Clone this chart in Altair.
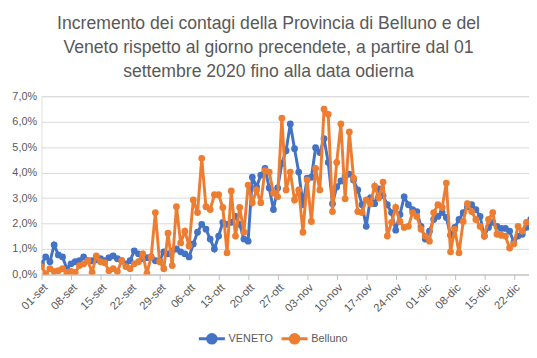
import altair as alt
import pandas as pd

# Daily increment (%) compared to the previous day, from 01-set-2020
veneto = [0.42, 0.69, 0.50, 1.16, 0.77, 0.69, 0.23, 0.42, 0.50, 0.54,
          0.69, 0.54, 0.54, 0.58, 0.62, 0.54, 0.66, 0.73, 0.62, 0.54,
          0.42, 0.54, 0.93, 0.81, 0.62, 0.66, 0.69, 0.54, 0.54, 0.89,
          0.81, 0.93, 1.00, 0.89, 0.81, 0.69, 1.20, 1.66, 1.97, 1.78,
          1.39, 1.00, 1.51, 2.05, 1.97, 2.05, 2.28, 1.97, 1.39, 1.31,
          3.82, 3.44, 3.90, 4.17, 3.40, 2.55, 3.40, 4.36, 4.86, 5.91,
          4.94, 4.02, 2.74, 3.78, 3.82, 4.98, 4.79, 5.33, 4.40, 2.78,
          3.44, 3.67, 3.86, 3.94, 3.71, 3.32, 2.74, 1.89, 3.01, 2.78,
          3.36, 3.09, 2.74, 2.43, 1.74, 2.36, 3.05, 2.74, 2.55, 2.47,
          1.89, 1.39, 1.70, 2.16, 2.28, 2.43, 2.24, 1.54, 1.85, 2.16,
          2.43, 2.66, 2.74, 2.55, 2.28, 1.51, 1.85, 2.05, 1.89, 1.81,
          1.81, 1.70, 1.27, 1.51, 1.58, 1.85, 2.16]
belluno = [0.31, 0.02, 0.23, 0.12, 0.15, 0.23, 0.08, 0.12, 0.08, 0.35,
           0.42, 0.54, 0.08, 0.73, 0.50, 0.46, 0.15, 0.23, 0.12, 0.54,
           0.31, 0.23, 0.42, 0.50, 0.81, 0.04, 0.69, 2.43, 0.50, 0.23,
           1.62, 0.35, 2.66, 1.24, 1.70, 1.12, 2.93, 2.43, 4.56, 2.66,
           2.55, 3.13, 3.13, 2.63, 0.85, 3.28, 1.51, 2.63, 1.66, 3.51,
           2.82, 3.32, 2.82, 4.09, 4.02, 3.20, 3.05, 6.14, 3.32, 4.02,
           2.93, 3.32, 1.66, 3.71, 2.08, 4.17, 3.32, 6.49, 6.29, 2.47,
           4.40, 5.91, 2.97, 5.60, 3.78, 2.47, 2.43, 2.93, 2.78, 3.47,
           3.01, 3.63, 1.51, 2.05, 2.63, 2.08, 1.85, 1.89, 2.43, 2.28,
           1.78, 1.51, 1.31, 2.43, 2.74, 2.63, 3.59, 0.89, 1.78, 0.85,
           2.08, 2.78, 2.47, 2.16, 1.89, 1.51, 2.16, 2.43, 1.58, 1.54,
           1.51, 1.04, 1.20, 1.89, 1.70, 2.05, 2.05]
tick_labels = ["01-set", "08-set", "15-set", "22-set", "29-set", "06-ott",
               "13-ott", "20-ott", "27-ott", "03-nov", "10-nov", "17-nov",
               "24-nov", "01-dic", "08-dic", "15-dic", "22-dic"]
series_names = ["VENETO", "Belluno"]
series_colors = ["#4472C4", "#ED7D31"]
title_lines = ["Incremento dei contagi della Provincia di Belluno e del",
               "Veneto rispetto al giorno precendete, a partire dal 01",
               "settembre 2020 fino alla data odierna"]

rows = []
for name, vals in zip(series_names, [veneto, belluno]):
    for i, v in enumerate(vals):
        rows.append({"giorno": i, "serie": name, "valore": v})
df = pd.DataFrame(rows)

FONT = "Liberation Sans"
GREY = "#595959"
label_js = "[" + ",".join("'%s'" % t for t in tick_labels) + "]"

x_enc = alt.X(
    "giorno:Q",
    scale=alt.Scale(domain=[0, 115.6], nice=False, zero=False),
    axis=alt.Axis(
        values=list(range(0, 7 * len(tick_labels), 7)),
        labelExpr=label_js + "[round(datum.value/7)]",
        labelAngle=-45, labelAlign="right", labelBaseline="top",
        labelFontSize=11.5, labelColor=GREY, labelFont=FONT,
        labelPadding=2, labelOverlap=False, labelFlush=False,
        grid=False, domainColor="#BFBFBF", tickColor="#BFBFBF",
        tickSize=5, title=None,
    ),
)
y_enc = alt.Y(
    "valore:Q",
    scale=alt.Scale(domain=[0, 7], nice=False),
    axis=alt.Axis(
        values=[0, 1, 2, 3, 4, 5, 6, 7],
        labelExpr="replace(format(datum.value, '.1f'), '.', ',') + '%'",
        labelFontSize=11, labelColor=GREY, labelFont=FONT,
        labelPadding=5, domain=False, ticks=False,
        gridColor="#D9D9D9", gridWidth=1, title=None,
    ),
)
color_enc = alt.Color(
    "serie:N",
    scale=alt.Scale(domain=series_names, range=series_colors),
    legend=alt.Legend(
        title=None, orient="none", direction="horizontal",
        legendX=158, legendY=231,
        symbolType="M-1,0L1,0M0.33,0A0.33,0.33,0,1,1,-0.33,0A0.33,0.33,0,1,1,0.33,0Z",
        symbolSize=700, symbolStrokeWidth=3,
        labelFontSize=11, labelColor=GREY, labelFont=FONT,
        columnPadding=1, labelOffset=2,
    ),
)

layers = []
for name in series_names:
    base = alt.Chart(df).transform_filter(alt.datum.serie == name)
    layers.append(base.mark_line(strokeWidth=3, clip=True).encode(
        x=x_enc, y=y_enc, color=color_enc))
    layers.append(base.mark_point(filled=True, size=48, opacity=1, clip=True).encode(
        x=x_enc, y=y_enc, color=color_enc))

chart = alt.layer(*layers).properties(
    width=495, height=181,
    autosize=alt.AutoSizeParams(type="none"),
    padding={"left": 34, "top": 87, "right": 0, "bottom": 69},
    title=alt.TitleParams(
        title_lines, font=FONT, fontSize=17.9, fontWeight="normal",
        color=GREY, lineHeight=24, anchor="middle", offset=10, dx=-17,
    ),
).configure_view(stroke=None).configure(background="white")

chart.save("out.html", embed_options={"renderer": "svg", "actions": False})
